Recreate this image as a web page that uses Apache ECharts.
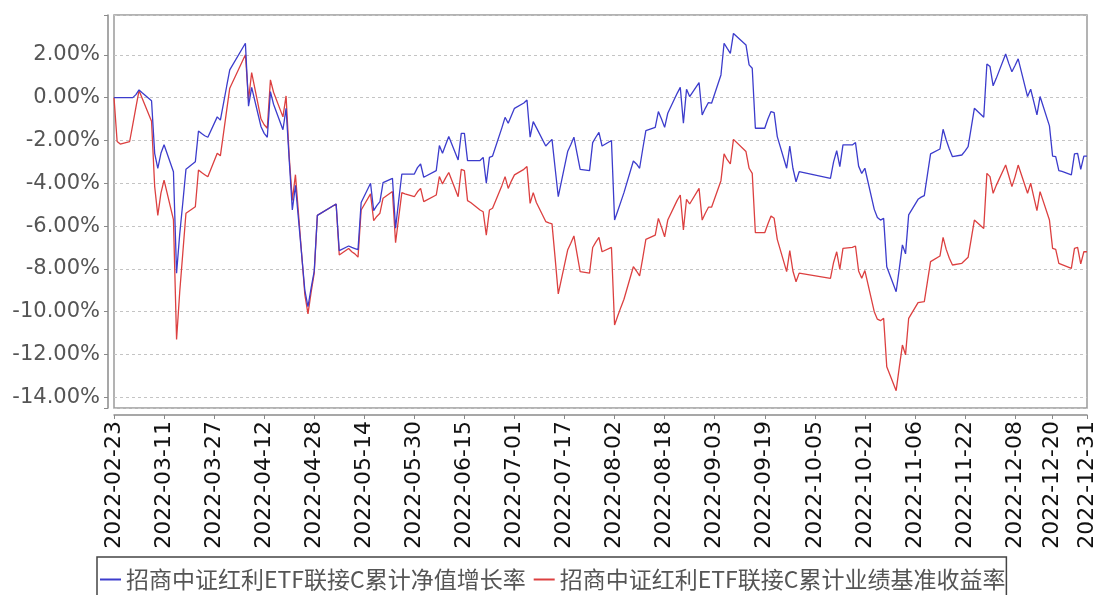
<!DOCTYPE html>
<html>
<head>
<meta charset="utf-8">
<script src="https://cdn.jsdelivr.net/npm/echarts@6/dist/echarts.min.js"></script>
<style>
html,body{margin:0;padding:0;background:#fff;}
#chart{width:1098px;height:595px;}
</style>
</head>
<body>
<div id="chart"></div>
<script>
// ---- data ----
var seriesNames = ['招商中证红利ETF联接C累计净值增长率', '招商中证红利ETF联接C累计业绩基准收益率'];
var tradeDates = ['2022-02-23','2022-02-24','2022-02-25','2022-02-28','2022-03-01','2022-03-02','2022-03-03','2022-03-04','2022-03-07','2022-03-08','2022-03-09','2022-03-10','2022-03-11','2022-03-14','2022-03-15','2022-03-16','2022-03-17','2022-03-18','2022-03-21','2022-03-22','2022-03-23','2022-03-24','2022-03-25','2022-03-28','2022-03-29','2022-03-30','2022-03-31','2022-04-01','2022-04-06','2022-04-07','2022-04-08','2022-04-11','2022-04-12','2022-04-13','2022-04-14','2022-04-15','2022-04-18','2022-04-19','2022-04-20','2022-04-21','2022-04-22','2022-04-25','2022-04-26','2022-04-27','2022-04-28','2022-04-29','2022-05-05','2022-05-06','2022-05-09','2022-05-10','2022-05-11','2022-05-12','2022-05-13','2022-05-16','2022-05-17','2022-05-18','2022-05-19','2022-05-20','2022-05-23','2022-05-24','2022-05-25','2022-05-26','2022-05-27','2022-05-30','2022-05-31','2022-06-01','2022-06-02','2022-06-06','2022-06-07','2022-06-08','2022-06-09','2022-06-10','2022-06-13','2022-06-14','2022-06-15','2022-06-16','2022-06-17','2022-06-20','2022-06-21','2022-06-22','2022-06-23','2022-06-24','2022-06-27','2022-06-28','2022-06-29','2022-06-30','2022-07-01','2022-07-04','2022-07-05','2022-07-06','2022-07-07','2022-07-08','2022-07-11','2022-07-12','2022-07-13','2022-07-14','2022-07-15','2022-07-18','2022-07-19','2022-07-20','2022-07-21','2022-07-22','2022-07-25','2022-07-26','2022-07-27','2022-07-28','2022-07-29','2022-08-01','2022-08-02','2022-08-03','2022-08-04','2022-08-05','2022-08-08','2022-08-09','2022-08-10','2022-08-11','2022-08-12','2022-08-15','2022-08-16','2022-08-17','2022-08-18','2022-08-19','2022-08-22','2022-08-23','2022-08-24','2022-08-25','2022-08-26','2022-08-29','2022-08-30','2022-08-31','2022-09-01','2022-09-02','2022-09-05','2022-09-06','2022-09-07','2022-09-08','2022-09-09','2022-09-13','2022-09-14','2022-09-15','2022-09-16','2022-09-19','2022-09-20','2022-09-21','2022-09-22','2022-09-23','2022-09-26','2022-09-27','2022-09-28','2022-09-29','2022-09-30','2022-10-10','2022-10-11','2022-10-12','2022-10-13','2022-10-14','2022-10-17','2022-10-18','2022-10-19','2022-10-20','2022-10-21','2022-10-24','2022-10-25','2022-10-26','2022-10-27','2022-10-28','2022-10-31','2022-11-01','2022-11-02','2022-11-03','2022-11-04','2022-11-07','2022-11-08','2022-11-09','2022-11-10','2022-11-11','2022-11-14','2022-11-15','2022-11-16','2022-11-17','2022-11-18','2022-11-21','2022-11-22','2022-11-23','2022-11-24','2022-11-25','2022-11-28','2022-11-29','2022-11-30','2022-12-01','2022-12-02','2022-12-05','2022-12-06','2022-12-07','2022-12-08','2022-12-09','2022-12-12','2022-12-13','2022-12-14','2022-12-15','2022-12-16','2022-12-19','2022-12-20','2022-12-21','2022-12-22','2022-12-23','2022-12-26','2022-12-27','2022-12-28','2022-12-29','2022-12-30','2022-12-31'];
var navGrowth = [0,0,0,0,0,0.14,0.36,0.23,-0.15,-2.6,-3.3,-2.6,-2.2,-3.46,-8.2,-6.38,-4.9,-3.35,-3.0,-1.56,-1.68,-1.78,-1.85,-0.9,-1.05,-0.27,0.52,1.3,2.54,-0.4,0.48,-1.36,-1.67,-1.85,0.28,-0.31,-1.5,-0.5,-2.9,-5.25,-4.1,-9.0,-9.77,-8.9,-8.1,-5.5,-4.97,-7.15,-6.93,-7.0,-7.05,-7.1,-4.9,-4.0,-5.28,-5.05,-4.86,-3.97,-3.77,-6.1,-4.8,-3.57,-3.57,-3.57,-3.27,-3.1,-3.72,-3.41,-2.24,-2.6,-2.2,-1.82,-2.91,-1.67,-1.67,-2.94,-2.94,-2.94,-2.79,-4.0,-2.79,-2.73,-1.4,-0.92,-1.2,-0.85,-0.5,-0.25,-0.11,-1.85,-1.12,-1.4,-2.26,-2.1,-1.95,-3.3,-4.63,-2.52,-2.2,-1.85,-2.6,-3.35,-3.41,-2.1,-1.85,-1.62,-2.26,-2.0,-5.72,-5.3,-4.87,-4.44,-2.96,-3.1,-3.3,-2.4,-1.54,-1.39,-0.65,-1.0,-1.39,-0.73,0.2,0.48,-1.2,0.39,0.05,0.7,-0.81,-0.5,-0.23,-0.26,1.06,2.54,2.3,2.07,3.0,2.46,1.53,1.37,-1.43,-1.43,-1.0,-0.65,-0.7,-1.82,-3.3,-2.26,-3.3,-3.93,-3.46,-3.77,-3.0,-2.48,-3.22,-2.21,-2.21,-2.1,-3.2,-3.54,-3.3,-5.22,-5.6,-5.72,-5.64,-7.9,-9.07,-8.0,-6.88,-7.3,-5.48,-4.75,-4.65,-4.58,-3.6,-2.63,-2.4,-1.48,-1.98,-2.4,-2.76,-2.68,-2.5,-2.29,-1.4,-0.5,-0.92,1.57,1.45,0.55,0.9,2.04,1.6,1.21,1.5,1.81,0.05,0.39,-0.2,-0.81,0.05,-1.32,-2.73,-2.76,-3.41,-3.45,-3.61,-2.63,-2.6,-3.35,-2.73,-2.73];
var benchmark = [0,-2.05,-2.17,-2.05,-1.26,-0.46,0.33,-0.03,-1.1,-4.15,-5.5,-4.46,-3.85,-5.7,-11.3,-9.09,-7.25,-5.4,-5.1,-3.38,-3.5,-3.6,-3.7,-2.6,-2.72,-1.67,-0.61,0.44,2.0,-0.1,1.17,-1.0,-1.27,-1.43,0.83,0.25,-0.9,0.08,-2.75,-4.8,-3.6,-9.2,-10.1,-9.1,-8.2,-5.5,-4.97,-7.35,-7.05,-7.2,-7.3,-7.45,-5.25,-4.5,-5.75,-5.55,-5.4,-4.7,-4.39,-6.78,-5.6,-4.44,-4.5,-4.63,-4.4,-4.24,-4.86,-4.55,-3.69,-4.03,-3.75,-3.5,-4.63,-3.35,-3.41,-4.81,-4.9,-5.25,-5.33,-6.42,-5.25,-5.17,-4.1,-3.69,-4.24,-3.9,-3.61,-3.35,-3.22,-4.94,-4.44,-4.9,-5.79,-5.85,-5.9,-7.5,-9.17,-7.12,-6.8,-6.46,-7.3,-8.13,-8.2,-7.0,-6.75,-6.53,-7.2,-7.0,-10.62,-10.2,-9.8,-9.42,-7.9,-8.1,-8.33,-7.5,-6.62,-6.42,-5.64,-6.05,-6.5,-5.72,-4.8,-4.55,-6.18,-4.75,-4.97,-4.24,-5.72,-5.4,-5.12,-5.12,-3.88,-2.63,-2.9,-3.1,-1.95,-2.52,-3.3,-3.54,-6.31,-6.31,-5.9,-5.53,-5.64,-6.62,-8.13,-7.15,-8.1,-8.6,-8.2,-8.44,-7.7,-7.2,-8.02,-7.04,-7.0,-6.93,-8.1,-8.44,-8.08,-10.0,-10.35,-10.42,-10.31,-12.57,-13.69,-12.6,-11.56,-12.02,-10.31,-9.58,-9.55,-9.53,-8.6,-7.66,-7.4,-6.53,-7.09,-7.5,-7.82,-7.74,-7.6,-7.46,-6.6,-5.72,-6.11,-3.54,-3.69,-4.47,-4.1,-3.15,-3.65,-4.16,-3.7,-3.15,-4.47,-4.0,-4.65,-5.28,-4.39,-5.72,-7.04,-7.09,-7.74,-7.8,-7.98,-7.04,-7.0,-7.77,-7.2,-7.2];
var xTickLabels = ['2022-02-23','2022-03-11','2022-03-27','2022-04-12','2022-04-28','2022-05-14','2022-05-30','2022-06-15','2022-07-01','2022-07-17','2022-08-02','2022-08-18','2022-09-03','2022-09-19','2022-10-05','2022-10-21','2022-11-06','2022-11-22','2022-12-08','2022-12-20','2022-12-31'];
var yTickValues = [-14,-12,-10,-8,-6,-4,-2,0,2];
var startDate = '2022-02-23', endDate = '2022-12-31';

// ---- build calendar categories ----
var categories = [];
(function(){
  var t = Date.parse(startDate + 'T00:00:00Z'), e = Date.parse(endDate + 'T00:00:00Z');
  for (; t <= e; t += 86400000) categories.push(new Date(t).toISOString().slice(0,10));
})();
function expand(vals){
  var m = {};
  tradeDates.forEach(function(d,i){ m[d] = vals[i]; });
  return categories.map(function(c){ return (c in m) ? m[c] : null; });
}
var labelSet = {};
xTickLabels.forEach(function(l){ labelSet[l] = true; });
function showIdx(i){ return !!labelSet[categories[i]]; }

var chart = echarts.init(document.getElementById('chart'), null, {renderer:'canvas'});
chart.setOption({
  backgroundColor: '#ffffff',
  animation: false,
  grid: {left:114, right:9, top:15, bottom:187, show:true, borderColor:'#9a9a9a', borderWidth:1.5, backgroundColor:'#ffffff'},
  legend: {
    data: seriesNames,
    left: 97, top: 557,
    padding: [11, 1, 30, 3],
    itemGap: 8, itemWidth: 21, itemHeight: 2, icon: 'rect',
    borderColor: '#444', borderWidth: 1.5,
    textStyle: {fontSize: 23, color: '#555', fontFamily: 'Noto Sans CJK SC'}
  },
  xAxis: {
    type: 'category', data: categories, boundaryGap: false, offset: 7,
    axisLine: {onZero: false, lineStyle: {color: '#8a8a8a', width: 1.5}},
    axisTick: {show: true, length: 4, interval: showIdx, lineStyle: {color: '#8a8a8a'}},
    axisLabel: {interval: showIdx, rotate: 90, margin: 6, fontSize: 22, color: '#111', fontFamily: 'DejaVu Sans'},
    splitLine: {show: false}
  },
  yAxis: {
    type: 'value', min: -14.5, max: 3.86, splitNumber: 9, offset: 6,
    axisLine: {show: true, onZero: false, lineStyle: {color: '#8a8a8a', width: 1.5}},
    axisTick: {show: true, length: 4, lineStyle: {color: '#8a8a8a'}},
    axisLabel: {
      margin: 8, fontSize: 21, color: '#555', fontFamily: 'DejaVu Sans',
      formatter: function(v){
        for (var i = 0; i < yTickValues.length; i++) if (Math.abs(v - yTickValues[i]) < 1e-6) return yTickValues[i].toFixed(2) + '%';
        return '';
      }
    },
    splitLine: {show: true, lineStyle: {color: '#c4c4c4', type: [3,3], width: 1}}
  },
  series: [
    {name: seriesNames[1], type: 'line', data: expand(benchmark), connectNulls: true, showSymbol: false, symbol: 'none',
     itemStyle: {color: '#dc4040'}, lineStyle: {color: '#dc4040', width: 1.3}, emphasis: {disabled: true}, z: 2},
    {name: seriesNames[0], type: 'line', data: expand(navGrowth), connectNulls: true, showSymbol: false, symbol: 'none',
     itemStyle: {color: '#3c3ccc'}, lineStyle: {color: '#3c3ccc', width: 1.3}, emphasis: {disabled: true}, z: 3}
  ]
});
</script>
</body>
</html>
